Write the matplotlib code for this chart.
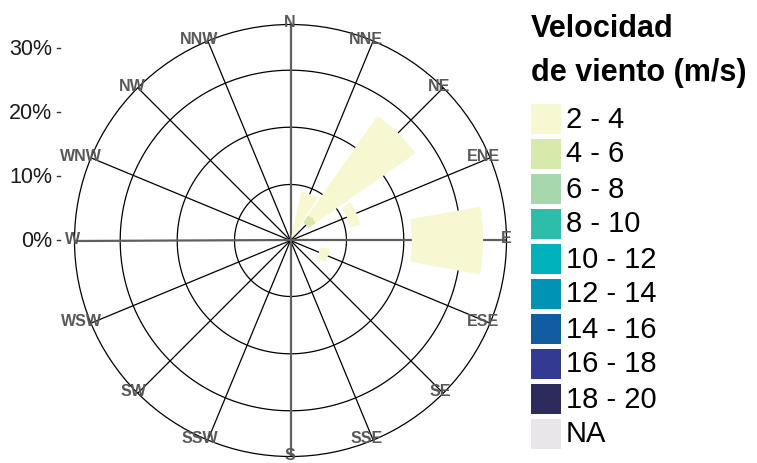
import numpy as np
import matplotlib
matplotlib.use("Agg")
import matplotlib.pyplot as plt
from matplotlib.patches import Rectangle
from matplotlib.lines import Line2D
from matplotlib.transforms import IdentityTransform

# ---------------- data ----------------
directions = ['N', 'NNE', 'NE', 'ENE', 'E', 'ESE', 'SE', 'SSE',
              'S', 'SSW', 'SW', 'WSW', 'W', 'WNW', 'NW', 'NNW']
# percent of time; base_pct is the unfilled lower part of each stacked bar
base_pct = [0, 0.5, 3.4, 9.5, 18.9, 4.8, 0, 0, 0, 0, 0, 0, 0, 0, 0, 0]
speed_4_6 = [0, 0, 1.4, 0, 0, 0, 0, 0, 0, 0, 0, 0, 0, 0, 0, 0]
speed_2_4 = [0, 7.3, 18.9, 1.6, 11.1, 1.5, 0, 0, 0, 0, 0, 0, 0, 0, 0, 0]
speed_bins = ['2 - 4', '4 - 6', '6 - 8', '8 - 10', '10 - 12', '12 - 14',
              '14 - 16', '16 - 18', '18 - 20', 'NA']
bin_colors = ['#F7F8D2', '#D8E9AC', '#A7D7AD', '#2CBEAA', '#00B2BB',
              '#0093B6', '#125CA4', '#323A92', '#2D2A5E', '#E8E6E8']
r_ticks = [0, 10, 20, 30]
legend_title = ['Velocidad', 'de viento (m/s)']

# ---------------- layout ----------------
W, H = 757, 463
FONT = ['Liberation Sans', 'DejaVu Sans']
plt.rcParams['font.family'] = FONT

fig = plt.figure(figsize=(W / 100, H / 100), dpi=100)
R = 216.0                  # outer circle radius in px
cx, cy = 290.5, 240.5      # centre (px from top-left)
px_per_pct = 6.42
rmax = R / px_per_pct

ax = fig.add_axes([(cx - R) / W, (H - cy - R) / H, 2 * R / W, 2 * R / H],
                  projection='polar')
ax.set_theta_zero_location('N')
ax.set_theta_direction(-1)
ax.set_ylim(0, rmax)
ax.set_xticks([])
ax.set_yticks([])
ax.grid(False)
ax.set_facecolor('white')
ax.spines['polar'].set_color('black')
ax.spines['polar'].set_linewidth(0.9)

n = len(directions)
theta = np.deg2rad(np.arange(n) * 360.0 / n)
full = np.linspace(0, 2 * np.pi, 400)

# grid circles
for rr in [56.0, 113.3, 170.3]:
    ax.plot(full, np.full_like(full, rr / px_per_pct), color='black', lw=0.9, zorder=1)

# spokes
for i, t in enumerate(theta):
    if i % 4 == 0:
        ax.plot([t, t], [0, rmax], color='#5f5f5f', lw=1.6, zorder=1.2,
                solid_capstyle='butt')
    else:
        ax.plot([t, t], [0, rmax], color='black', lw=0.9, zorder=1.1)

# bars
width = np.deg2rad(360.0 / n * 0.9)
b = np.array(base_pct, dtype=float)
s46 = np.array(speed_4_6, dtype=float)
s24 = np.array(speed_2_4, dtype=float)
m = s46 > 0
ax.bar(theta[m], s46[m], width=width, bottom=b[m], color=bin_colors[1],
       linewidth=0, zorder=3)
m = s24 > 0
ax.bar(theta[m], s24[m], width=width, bottom=(b + s46)[m], color=bin_colors[0],
       linewidth=0, zorder=3)

fig.canvas.draw()
renderer = fig.canvas.get_renderer()

# direction labels
for i, lab in enumerate(directions):
    x, y = ax.transData.transform((theta[i], rmax))
    t = fig.text(x, y, lab, transform=IdentityTransform(), ha='center', va='center',
                 fontsize=11.5, fontweight='bold', color='#585858', family=FONT,
                 zorder=5)
    w = t.get_window_extent(renderer).width
    t.set_position((x + 3 - 0.3 * w, y + 1.5))

# radial axis labels on the left
for r in r_ticks:
    _, y = ax.transData.transform((0, r))
    fig.text(52, y - 7.0, f'{r}%', transform=IdentityTransform(), ha='right',
             va='baseline', fontsize=15.5, color='#1a1a1a', family=FONT)
    fig.add_artist(Line2D([56.5, 60], [y, y], transform=IdentityTransform(),
                          color='#333333', lw=1.0))

# legend
def fy(ypx):
    return H - ypx

fig.text(531, fy(36.7), legend_title[0], transform=IdentityTransform(), ha='left',
         va='baseline', fontsize=22, fontweight='bold', color='black', family=FONT)
fig.text(531, fy(80.5), legend_title[1], transform=IdentityTransform(), ha='left',
         va='baseline', fontsize=22, fontweight='bold', color='black', family=FONT)
for i, (lab, col) in enumerate(zip(speed_bins, bin_colors)):
    top = 104 + 35 * i
    fig.add_artist(Rectangle((531, fy(top + 30)), 30, 30, transform=IdentityTransform(),
                             facecolor=col, edgecolor='none'))
    fig.text(566, fy(top + 23.5), lab, transform=IdentityTransform(), ha='left',
             va='baseline', fontsize=21, color='black', family=FONT)

fig.savefig('out.png', dpi=100, facecolor='white')
